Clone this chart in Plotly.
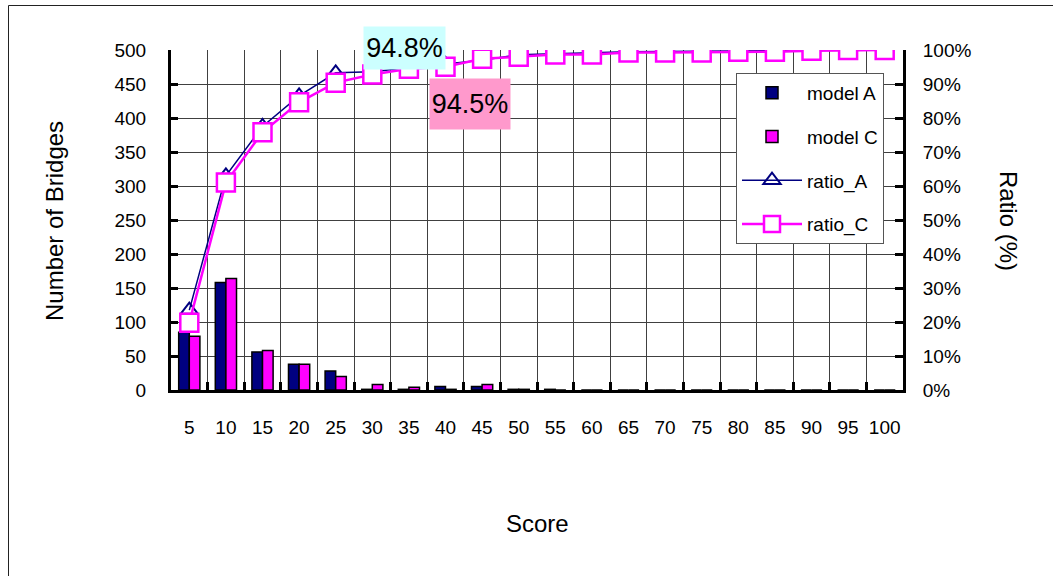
import plotly.graph_objects as go

# Score bins (category axis)
scores = ["5", "10", "15", "20", "25", "30", "35", "40", "45", "50",
          "55", "60", "65", "70", "75", "80", "85", "90", "95", "100"]

# Number of bridges per score bin
model_a = [85, 158, 56, 38, 28, 1, 1, 5, 5, 1, 1, 0, 0, 0, 0, 0, 0, 0, 0, 0]
model_c = [79, 164, 58, 38, 20, 8, 4, 1, 8, 1, 0, 0, 0, 0, 0, 0, 0, 0, 0, 0]

# Cumulative ratio (%)
ratio_a = [23.5, 63.0, 77.5, 86.5, 93.3, 93.6, 94.8, 95.8, 97.0, 98.6,
           99.0, 99.2, 99.5, 99.6, 99.7, 99.8, 99.8, 99.9, 100.0, 100.0]
ratio_c = [19.8, 61.0, 75.8, 84.6, 90.4, 92.8, 94.5, 95.1, 97.4, 98.0,
           98.7, 98.7, 99.3, 99.3, 99.3, 99.5, 99.5, 99.8, 100.0, 100.0]

FONT = "Liberation Sans, Arial, sans-serif"
NAVY = "#000080"
MAGENTA = "#ff00ff"

# plot-area placement in pixels
W, H = 1053, 576
L, R, T, B = 171, 903, 50, 390
pw, ph = R - L, B - T


def px(x):
    return (x - L) / pw


def py(y):
    return (B - y) / ph


fig = go.Figure()

fig.add_trace(go.Bar(
    x=scores, y=model_a, name="model A", legendgroup="a",
    marker=dict(color=NAVY, line=dict(color="black", width=1.5)),
))
fig.add_trace(go.Bar(
    x=scores, y=model_c, name="model C", legendgroup="c",
    marker=dict(color=MAGENTA, line=dict(color="black", width=1.5)),
))
fig.add_trace(go.Scatter(
    x=scores, y=ratio_a, name="ratio_A", yaxis="y2", legendgroup="ra",
    mode="lines+markers",
    line=dict(color=NAVY, width=1.5),
    marker=dict(symbol="triangle-up-open", size=15, color=NAVY,
                line=dict(color=NAVY, width=2)),
))
fig.add_trace(go.Scatter(
    x=scores, y=ratio_c, name="ratio_C", yaxis="y2", legendgroup="rc",
    mode="lines+markers",
    line=dict(color=MAGENTA, width=2.5),
    marker=dict(symbol="square", size=18, color="white",
                line=dict(color=MAGENTA, width=2.5)),
))

# Value labels for score 35 (x given as category index)
i35 = scores.index("35")
fig.add_annotation(
    x=i35, y=ratio_a[i35], xref="x", yref="y2",
    text=f"{ratio_a[i35]:.1f}%", showarrow=False,
    xanchor="center", yanchor="middle",
    xshift=-4, yshift=20, width=77, height=38, borderpad=2,
    bgcolor="#ccffff", font=dict(family=FONT, size=27, color="black"),
)
fig.add_annotation(
    x=i35, y=ratio_c[i35], xref="x", yref="y2",
    text=f"{ratio_c[i35]:.1f}%", showarrow=False,
    xanchor="center", yanchor="middle",
    xshift=61, yshift=-35, width=76, height=46, borderpad=2,
    bgcolor="#ff99cc", font=dict(family=FONT, size=27, color="black"),
)

# Axis titles
fig.add_annotation(text="Number of Bridges", showarrow=False, textangle=-90,
                   xref="paper", yref="paper", x=px(54), y=py(221),
                   xanchor="center", yanchor="middle",
                   font=dict(family=FONT, size=24, color="black"))
fig.add_annotation(text="Ratio (%)", showarrow=False, textangle=90,
                   xref="paper", yref="paper", x=px(1009), y=py(221),
                   xanchor="center", yanchor="middle",
                   font=dict(family=FONT, size=24, color="black"))
fig.add_annotation(text="Score", showarrow=False,
                   xref="paper", yref="paper", x=px(537), y=py(523),
                   xanchor="center", yanchor="middle",
                   font=dict(family=FONT, size=24, color="black"))

# outer frame: left and top edges
fig.add_shape(type="line", xref="paper", yref="paper",
              x0=px(8.5), y0=py(5.5), x1=px(8.5), y1=py(600),
              line=dict(color="#222222", width=1), layer="below")
fig.add_shape(type="line", xref="paper", yref="paper",
              x0=px(8.5), y0=py(5.5), x1=px(1100), y1=py(5.5),
              line=dict(color="#222222", width=1), layer="below")

fig.update_layout(
    width=W, height=H,
    margin=dict(l=L, r=W - R, t=T, b=H - B, pad=0),
    paper_bgcolor="white", plot_bgcolor="white",
    barmode="group", bargap=0.42, bargroupgap=0,
    font=dict(family=FONT, size=19, color="black"),
    showlegend=True,
    legend=dict(
        x=px(736), y=py(73), xanchor="left", yanchor="top",
        bgcolor="white", bordercolor="#555555", borderwidth=1,
        font=dict(family=FONT, size=19, color="black"),
        tracegroupgap=16, itemwidth=60,
    ),
    xaxis=dict(
        type="category", tickson="boundaries", tickangle=0,
        showline=True, linecolor="black", linewidth=3,
        ticks="inside", ticklen=8, tickwidth=3, tickcolor="black",
        showgrid=True, gridcolor="#404040", gridwidth=1,
        tickfont=dict(family=FONT, size=19), ticklabelstandoff=18,
        range=[-0.5, 19.5], zeroline=False,
    ),
    yaxis=dict(
        range=[0, 500], dtick=50, tick0=0,
        showline=True, linecolor="black", linewidth=3,
        ticks="inside", ticklen=7, tickwidth=3, tickcolor="black",
        showgrid=True, gridcolor="#404040", gridwidth=1,
        tickfont=dict(family=FONT, size=19), ticklabelstandoff=18,
        zeroline=False,
    ),
    yaxis2=dict(
        range=[0, 100], dtick=10, tick0=0, ticksuffix="%",
        overlaying="y", side="right",
        showline=True, linecolor="black", linewidth=3,
        ticks="inside", ticklen=8, tickwidth=3, tickcolor="black",
        showgrid=False, zeroline=False,
        tickfont=dict(family=FONT, size=19), ticklabelstandoff=13,
    ),
)

fig.write_html("out.html")
